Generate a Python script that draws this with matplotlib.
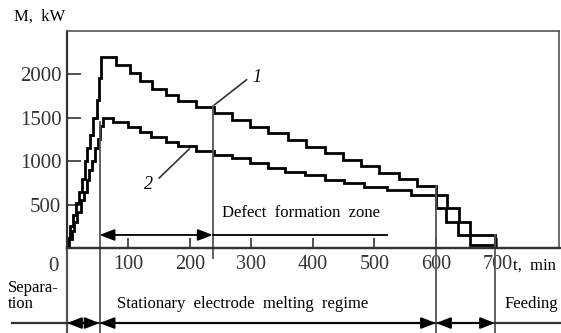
import matplotlib.pyplot as plt

plt.rcParams['font.family'] = ['Liberation Serif', 'DejaVu Serif']

# curve 1: step start times (min) and power levels (kW)
t1 = [0, 2, 5, 9, 14, 19, 24, 29, 33, 38, 43, 48, 52, 56,
      79, 102, 118, 139, 161, 180, 209, 239,
      268, 298, 327, 360, 389, 419, 448, 478, 508, 540, 569,
      600, 618, 637, 655, 696]
m1 = [0, 120, 250, 380, 520, 650, 800, 1000, 1150, 1300, 1500, 1700, 1960, 2200,
      2110, 2015, 1920, 1830, 1765, 1690, 1630, 1553,
      1476, 1399, 1322, 1245, 1168, 1092, 1015, 940, 865, 790, 715,
      610, 460, 300, 150, 0]

# curve 2
t2 = [0, 4, 8, 12, 17, 22, 27, 32, 36, 41, 46, 50, 54, 58,
      75, 99, 118, 137, 161, 180, 209, 239,
      268, 298, 327, 354, 387, 419, 451, 483, 521, 560,
      600, 617, 636, 655, 696]
m2 = [0, 100, 200, 300, 420, 550, 650, 780, 900, 1000, 1150, 1250, 1400, 1500,
      1446, 1392, 1342, 1284, 1226, 1176, 1120, 1075,
      1035, 980, 920, 880, 842, 784, 746, 707, 669, 615,
      460, 300, 150, 40, 0]

xticks = [100, 200, 300, 400, 500, 600, 700]
yticks = [500, 1000, 1500, 2000]

# stage boundaries (min) and zone limits
t_sep = 53
t_defect = 237
t_stat_end = 600
t_end = 696

fig = plt.figure(figsize=(5.61, 3.33), dpi=100)
ax = fig.add_axes([0.1194, 0.2553, 0.8770, 0.6516])

ax.step(t1, m1, where='post', color='black', lw=2.0, solid_joinstyle='miter')
ax.step(t2, m2, where='post', color='black', lw=2.0, solid_joinstyle='miter')

ax.set_xlim(0, 800)
ax.set_ylim(0, 2500)
ax.set_xticks(xticks)
ax.set_yticks(yticks)
ax.tick_params(direction='in', length=7, width=1.2, colors='#333333')
ax.tick_params(axis='x', pad=5, labelsize=14.5)
ax.tick_params(axis='y', pad=4, length=10, labelsize=15)
for s in ['left', 'bottom']:
    ax.spines[s].set_linewidth(1.6)
    ax.spines[s].set_color('#333333')
for s in ['top', 'right']:
    ax.spines[s].set_linewidth(1.2)
    ax.spines[s].set_color('#555555')

# boundary lines running below the axes
gray = '#555555'
low = -1000
ax.plot([0, 0], [0, low], color=gray, lw=1.6, clip_on=False)
ax.plot([t_sep, t_sep], [1450, low], color=gray, lw=1.3, clip_on=False)
ax.plot([t_defect, t_defect], [1640, -110], color=gray, lw=1.3, clip_on=False)
ax.plot([t_stat_end, t_stat_end], [715, low], color=gray, lw=1.3, clip_on=False)
ax.plot([t_end, t_end], [150, low], color=gray, lw=1.3, clip_on=False)
ax.plot([0, 810], [0, 0], color='#333333', lw=1.6, clip_on=False)

arrow = dict(arrowstyle='<|-|>,head_length=0.9,head_width=0.35', color='black',
             lw=1.3, shrinkA=0, shrinkB=0, mutation_scale=10)

# defect formation zone
y_def = 150
ax.annotate('', xy=(t_sep, y_def), xytext=(t_defect, y_def), arrowprops=arrow)
ax.plot([t_defect, 521], [y_def, y_def], color='black', lw=1.3)
ax.text(252, 400, 'Defect  formation  zone', fontsize=12, va='center', ha='left')

# stages row
y_row = -865
ax.plot([-89, 810], [y_row, y_row], color='#333333', lw=1.6, clip_on=False)
for a, b in [(0, t_sep), (t_sep, t_stat_end), (t_stat_end, t_end)]:
    ax.annotate('', xy=(a, y_row), xytext=(b, y_row), arrowprops=arrow,
                annotation_clip=False)

ax.text(-96, -460, 'Separa-', fontsize=12, va='center', ha='left', clip_on=False)
ax.text(-96, -640, 'tion', fontsize=12, va='center', ha='left', clip_on=False)
ax.text(81, -640, 'Stationary  electrode  melting  regime', fontsize=12,
        va='center', ha='left', clip_on=False)
ax.text(711, -640, 'Feeding', fontsize=12, va='center', ha='left', clip_on=False)

# curve labels
ax.plot([240, 292], [1650, 1938], color='#333333', lw=1.2)
ax.text(308, 1960, '1', fontsize=13, style='italic', ha='center', va='center')
ax.plot([150, 199], [807, 1142], color='#333333', lw=1.2)
ax.text(132, 727, '2', fontsize=13, style='italic', ha='center', va='center')

# axis captions
ax.text(-14, -208, '0', fontsize=15, ha='right', va='center', color='#333333')
ax.text(725, -208, 't,  min', fontsize=12, ha='left', va='center')
fig.text(14 / 561, 1 - 17 / 333, 'M,  kW', fontsize=12, ha='left', va='center')

fig.savefig('out.png', dpi=100)
